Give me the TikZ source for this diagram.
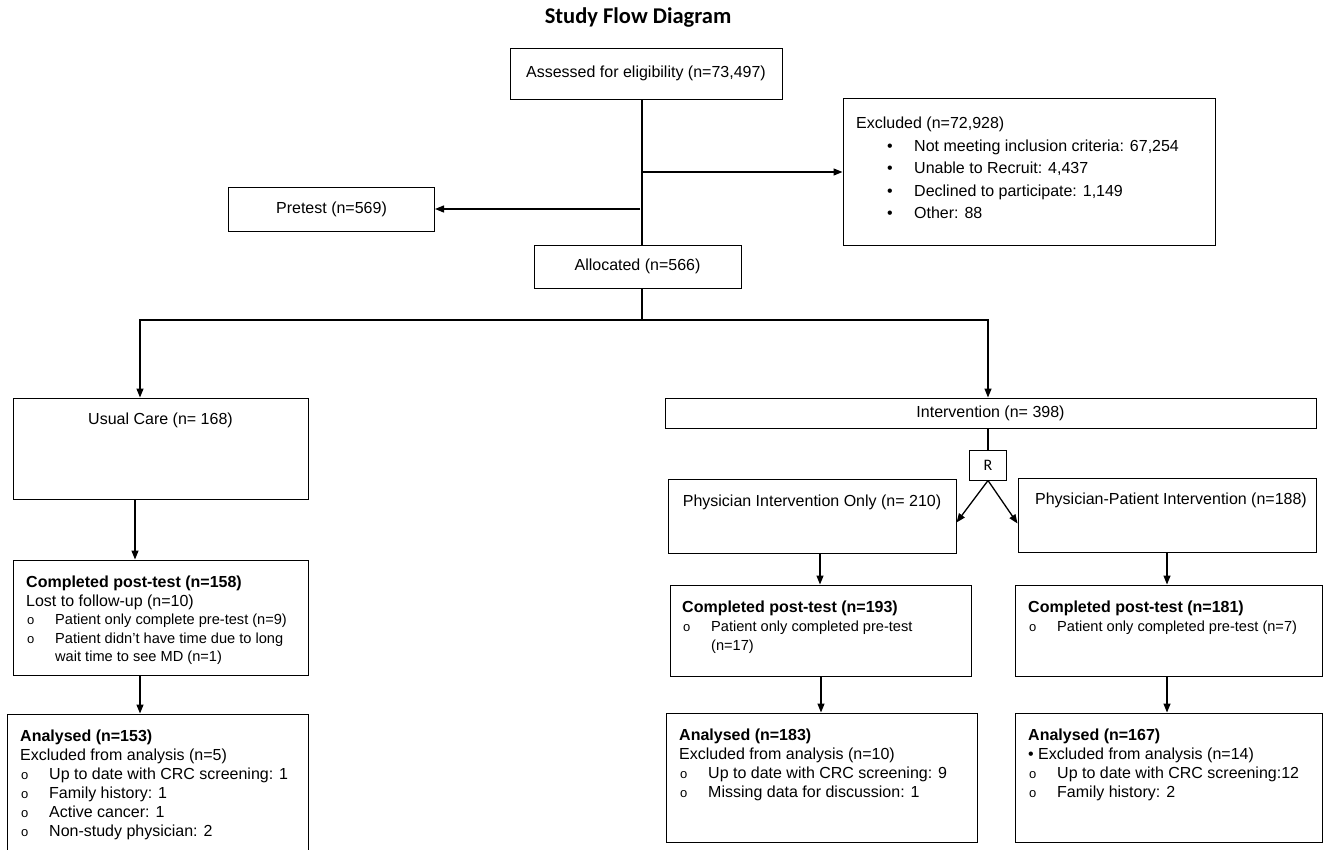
\documentclass[tikz,border=0pt]{standalone}
\usepackage{fontspec}
\setmainfont{Liberation Sans}
\newfontfamily\carlito{Carlito}
\usetikzlibrary{arrows.meta,calc}

% open-circle and filled bullets as in the source boxes
\newcommand{\ob}[1]{\makebox[29pt][l]{\hspace{1pt}{\fontsize{13}{13}\selectfont o}}#1}
\newcommand{\obs}[1]{{\ob{\fontsize{14.6}{18.5}\selectfont #1}}}
\newcommand{\eb}[1]{\hspace*{31pt}\makebox[27pt][l]{\textbullet}#1}

\begin{document}
\begin{tikzpicture}[x=1pt,y=-1pt,
    box/.style={draw,line width=1pt,inner sep=0pt},
    txt/.style={anchor=north west,inner sep=0pt,align=left},
    arr/.style={line width=1.3pt,-{Triangle[length=9pt,width=7pt]}},
    every node/.append style={font=\fontsize{16}{19}\selectfont}]
\useasboundingbox (0,0) rectangle (1324,849);
\clip (0,0) rectangle (1324,849);

\node[font=\carlito\bfseries\fontsize{22.5}{22.5}\selectfont] (title) at (638,18) {Study Flow Diagram};

% enrolment
\node[box,minimum width=272pt,minimum height=51pt] (assess) at (646,73.5) {Assessed for eligibility (n=73,497)};
\node[box,minimum width=372pt,minimum height=147pt] (excl) at (1029,171.5) {};
\node[txt,font=\fontsize{16}{22.5}\selectfont] (excltxt) at (856,117) {Excluded (n=72,928)\\
  \eb{Not meeting inclusion criteria: 67,254}\\
  \eb{Unable to Recruit: 4,437}\\
  \eb{Declined to participate: 1,149}\\
  \eb{Other: 88}};
\node[box,minimum width=206pt,minimum height=44pt] (pretest) at (331.5,209) {Pretest (n=569)};
\node[box,minimum width=207pt,minimum height=43pt] (alloc) at (637.5,266.5) {Allocated (n=566)};

\draw[line width=1.1pt] (642,0 |- assess.south) -- (642,0 |- alloc.north);
\coordinate (split1) at (642,172);
\coordinate (split2) at (640,209);
\draw[arr] (split1) -- (split1 -| excl.west);
\draw[arr] (split2) -- (split2 -| pretest.east);

% allocation
\node[box,minimum width=295pt,minimum height=101pt] (usual) at (160.5,448.5) {};
\node (usualtxt) at ($(usual.north)+(0,23)$) {Usual Care (n= 168)};
\node[box,minimum width=651pt,minimum height=30pt] (interv) at (990.5,413) {Intervention (n= 398)};
\node[box,minimum width=37pt,minimum height=30pt,font=\carlito\fontsize{16}{16}\selectfont] (rbox) at (988,465) {R};
\node[box,minimum width=288pt,minimum height=74pt] (phys) at (812,516) {};
\node (phystxt) at ($(phys.north)+(0,24)$) {Physician Intervention Only (n= 210)};
\node[box,minimum width=298pt,minimum height=74pt] (pp) at (1167,515) {};
\node (pptxt) at ($(pp.north)+(4,23)$) {Physician-Patient Intervention (n=188)};

\coordinate (fork) at (642,320);
\draw[line width=1.1pt] (642,0 |- alloc.south) -- (fork);
\draw[arr] (fork) -| (140,0 |- usual.north);
\draw[arr] (fork) -| (988,0 |- interv.north);
\draw[line width=1.1pt] (interv.south -| rbox) -- (rbox.north);
\draw[arr] (rbox.south) -- ($(phys.north east)+(0,44)$);
\draw[arr] (rbox.south) -- ($(pp.north west)+(0,46)$);

% follow-up
\node[box,minimum width=295pt,minimum height=115pt] (cpost1) at (160.5,617.5) {};
\node[txt,font=\fontsize{16}{18.5}\selectfont] (cpost1txt) at (26,576) {\textbf{Completed post-test (n=158)}\\
  Lost to follow-up (n=10)\\
  \obs{Patient only complete pre-test (n=9)}\\
  \obs{Patient didn't have time due to long}\\
  \hspace*{29pt}{\fontsize{14.6}{18.5}\selectfont wait time to see MD (n=1)}};
\node[box,minimum width=301pt,minimum height=91pt] (cpost2) at (820.5,630.5) {};
\node[txt] (cpost2txt) at (682,601) {\textbf{Completed post-test (n=193)}\\
  \obs{Patient only completed pre-test}\\
  \hspace*{29pt}{\fontsize{14.6}{18.5}\selectfont (n=17)}};
\node[box,minimum width=307pt,minimum height=91pt] (cpost3) at (1168.5,630.5) {};
\node[txt] (cpost3txt) at (1028,601) {\textbf{Completed post-test (n=181)}\\
  \obs{Patient only completed pre-test (n=7)}};

\draw[arr] (135,0 |- usual.south) -- (135,0 |- cpost1.north);
\draw[arr] (820,0 |- phys.south) -- (820,0 |- cpost2.north);
\draw[arr] (1167,0 |- pp.south) -- (1167,0 |- cpost3.north);

% analysis
\node[box,minimum width=301pt,minimum height=162pt] (an1) at (157.5,795) {};
\node[txt] (an1txt) at (20,730) {\textbf{Analysed (n=153)}\\
  Excluded from analysis (n=5)\\
  \ob{Up to date with CRC screening: 1}\\
  \ob{Family history: 1}\\
  \ob{Active cancer: 1}\\
  \ob{Non-study physician: 2}};
\node[box,minimum width=311pt,minimum height=129pt] (an2) at (821.5,777.5) {};
\node[txt] (an2txt) at (679,729) {\textbf{Analysed (n=183)}\\
  Excluded from analysis (n=10)\\
  \ob{Up to date with CRC screening: 9}\\
  \ob{Missing data for discussion: 1}};
\node[box,minimum width=307pt,minimum height=129pt] (an3) at (1168.5,777.5) {};
\node[txt] (an3txt) at (1028,729) {\textbf{Analysed (n=167)}\\
  \textbullet{} Excluded from analysis (n=14)\\
  \ob{Up to date with CRC screening:12}\\
  \ob{Family history: 2}};

\draw[arr] (140,0 |- cpost1.south) -- (140,0 |- an1.north);
\draw[arr] (821,0 |- cpost2.south) -- (821,0 |- an2.north);
\draw[arr] (1167,0 |- cpost3.south) -- (1167,0 |- an3.north);
\end{tikzpicture}
\end{document}
